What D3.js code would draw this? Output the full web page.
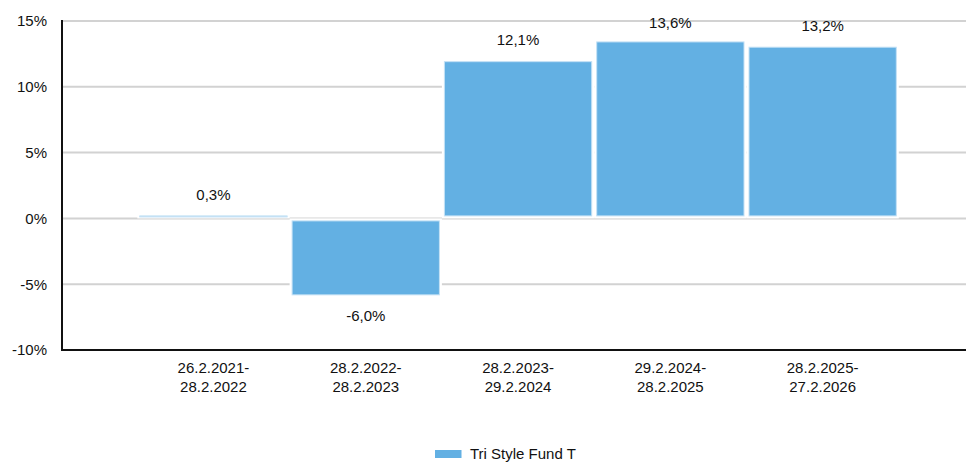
<!DOCTYPE html>
<html>
<head>
<meta charset="utf-8">
<script src="https://cdn.jsdelivr.net/npm/d3@7"></script>
<style>
  html, body { margin: 0; padding: 0; background: #fff; }
  svg { display: block; font-family: "Liberation Sans", Arial, sans-serif; }
</style>
</head>
<body>
<svg id="chart" width="966" height="463"></svg>
<script>
// Yearly performance periods
const periods = [
  ["26.2.2021-", "28.2.2022"],
  ["28.2.2022-", "28.2.2023"],
  ["28.2.2023-", "29.2.2024"],
  ["29.2.2024-", "28.2.2025"],
  ["28.2.2025-", "27.2.2026"]
];
const returns = [0.3, -6.0, 12.1, 13.6, 13.2];
const yTicks = [-10, -5, 0, 5, 10, 15];
const seriesName = "Tri Style Fund T";

const svg = d3.select("#chart");
const barColor = "#63b0e3";
const barEdge = "#c4e1f5";

const plot = { left: 62, right: 966, top: 21, bottom: 350 };

const y = d3.scaleLinear().domain([-10, 15]).range([plot.bottom, plot.top]);
const x = d3.scaleBand()
  .domain(periods.map((d, i) => i))
  .range([137.3, 898.8])
  .padding(0);

// Horizontal gridlines
svg.append("g")
  .selectAll("line")
  .data(yTicks.filter(t => t !== -10))
  .join("line")
  .attr("x1", plot.left)
  .attr("x2", plot.right)
  .attr("y1", d => y(d))
  .attr("y2", d => y(d))
  .attr("stroke", "#d2d2d2")
  .attr("stroke-width", 2);

// Y axis labels
const yAxis = d3.axisLeft(y).tickValues(yTicks).tickFormat(d => d + "%").tickSize(0).tickPadding(15);
const gy = svg.append("g").attr("transform", `translate(${plot.left},0)`).call(yAxis);
gy.select(".domain").remove();
gy.selectAll("text").attr("font-size", 15).attr("fill", "#111").attr("font-family", "Liberation Sans, Arial, sans-serif");

// White halo behind each bar (hides gridlines at the edges)
svg.append("g")
  .selectAll("rect")
  .data(returns)
  .join("rect")
  .attr("x", (d, i) => x(i))
  .attr("width", x.bandwidth())
  .attr("y", d => Math.min(y(d), y(0)))
  .attr("height", d => Math.abs(y(d) - y(0)))
  .attr("fill", "#fff");

// Bars
const inset = 2.5;
const barH = d => Math.max(Math.abs(y(d) - y(0)) - 2 * inset, 1);
svg.append("g")
  .selectAll("rect")
  .data(returns)
  .join("rect")
  .attr("x", (d, i) => x(i) + inset)
  .attr("width", x.bandwidth() - 2 * inset)
  .attr("y", d => (y(d) + y(0)) / 2 - barH(d) / 2)
  .attr("height", barH)
  .attr("fill", barColor)
  .attr("stroke", barEdge)
  .attr("stroke-width", 1);

// Value labels
svg.append("g")
  .selectAll("text")
  .data(returns)
  .join("text")
  .attr("x", (d, i) => x(i) + x.bandwidth() / 2)
  .attr("y", d => d >= 0 ? Math.max(y(d) - 14, plot.top + 7) : y(d) + 24)
  .attr("text-anchor", "middle")
  .attr("font-size", 15)
  .attr("fill", "#111")
  .text(d => d.toFixed(1).replace(".", ",") + "%");

// Axis lines
svg.append("line")
  .attr("x1", plot.left).attr("x2", plot.left)
  .attr("y1", plot.top - 1).attr("y2", plot.bottom + 1)
  .attr("stroke", "#111").attr("stroke-width", 2);
svg.append("line")
  .attr("x1", plot.left - 1).attr("x2", plot.right)
  .attr("y1", plot.bottom).attr("y2", plot.bottom)
  .attr("stroke", "#111").attr("stroke-width", 2);

// Category labels (two lines)
const xl = svg.append("g")
  .selectAll("text")
  .data(periods)
  .join("text")
  .attr("x", (d, i) => x(i) + x.bandwidth() / 2)
  .attr("y", 373)
  .attr("text-anchor", "middle")
  .attr("font-size", 15)
  .attr("fill", "#111");
xl.selectAll("tspan")
  .data(d => d)
  .join("tspan")
  .attr("x", function () { return d3.select(this.parentNode).attr("x"); })
  .attr("dy", (d, i) => i === 0 ? 0 : 19)
  .text(d => d);

// Legend
const legend = svg.append("g").attr("transform", "translate(435,450)");
legend.append("rect").attr("width", 26.5).attr("height", 8).attr("fill", barColor);
legend.append("text").attr("x", 35).attr("y", 9).attr("font-size", 15).attr("fill", "#111").text(seriesName);
</script>
</body>
</html>
